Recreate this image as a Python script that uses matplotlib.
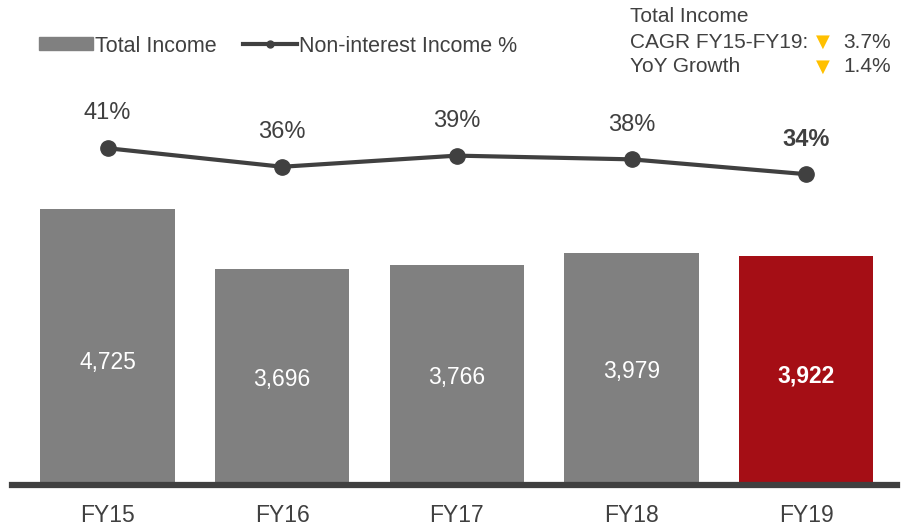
import matplotlib.pyplot as plt
from matplotlib.patches import Patch
from matplotlib.lines import Line2D

plt.rcParams['font.family'] = ['Liberation Sans', 'DejaVu Sans']

# data
years = ['FY15', 'FY16', 'FY17', 'FY18', 'FY19']
total_income = [4725, 3696, 3766, 3979, 3922]
non_int_pct = [41, 36, 39, 38, 34]
label_drop = [270, 50, 50, 55, 95]  # how far below bar middle the value sits

grey = '#808080'
red = '#A50E15'
dark = '#404040'
amber = '#FFC000'

fig = plt.figure(figsize=(9.09, 5.30), dpi=100)
ax = fig.add_axes([12 / 909, 45 / 530, 885 / 909, 385 / 530])

x = list(range(len(years)))
colors = [grey] * 4 + [red]
ax.bar(x, total_income, width=0.77, color=colors, zorder=2)

for i, v in enumerate(total_income):
    last = i == len(years) - 1
    ax.text(i, v / 2 - label_drop[i], f'{v:,}', ha='center', va='center',
            color='white', fontsize=16.5,
            fontweight='bold' if last else 'normal')

ax.set_xlim(-0.547, 4.52)
ax.set_ylim(0, 6590)
ax.set_xticks(x)
ax.set_xticklabels(years, fontsize=16.5, color=dark)
ax.tick_params(axis='x', length=0, pad=14)
ax.set_yticks([])
for s in ['top', 'right', 'left']:
    ax.spines[s].set_visible(False)
ax.spines['bottom'].set_color(dark)
ax.spines['bottom'].set_linewidth(4.5)
ax.patch.set_alpha(0)

ax2 = ax.twinx()
ax2.plot(x, non_int_pct, color=dark, lw=3, marker='o', markersize=11, zorder=3)
ax2.set_ylim(-49.8, 54)
ax2.axis('off')
for i, p in enumerate(non_int_pct):
    last = i == len(years) - 1
    ax2.annotate(f'{p}%', (i, p), xytext=(0, 25), textcoords='offset points',
                 ha='center', va='center', fontsize=17, color=dark,
                 fontweight='bold' if last else 'normal')

# legend
handles = [Patch(color=grey),
           Line2D([], [], color=dark, lw=3, marker='o', markersize=5)]
fig.legend(handles, ['Total Income', 'Non-interest Income %'],
           loc='center left', bbox_to_anchor=(20 / 909, 1 - 46 / 530),
           ncol=2, frameon=False, fontsize=15.5, handlelength=2.5,
           handleheight=0.55, handletextpad=0.1, columnspacing=1.2,
           labelcolor=dark)

# CAGR / YoY box
fig.text(630 / 909, 1 - 17 / 530, 'Total Income', fontsize=15, color=dark,
         va='center')
fig.text(630 / 909, 1 - 42 / 530, 'CAGR FY15-FY19:', fontsize=15, color=dark,
         va='center')
fig.text(630 / 909, 1 - 67 / 530, 'YoY Growth', fontsize=15, color=dark,
         va='center')
for yy, val in [(42, '3.7%'), (67, '1.4%')]:
    fig.text(823 / 909, 1 - yy / 530, '▼', fontsize=13, color=amber,
             ha='center', va='center', family='DejaVu Sans')
    fig.text(891 / 909, 1 - yy / 530, val, fontsize=15, color=dark,
             ha='right', va='center')

fig.savefig('out.png', dpi=100)
